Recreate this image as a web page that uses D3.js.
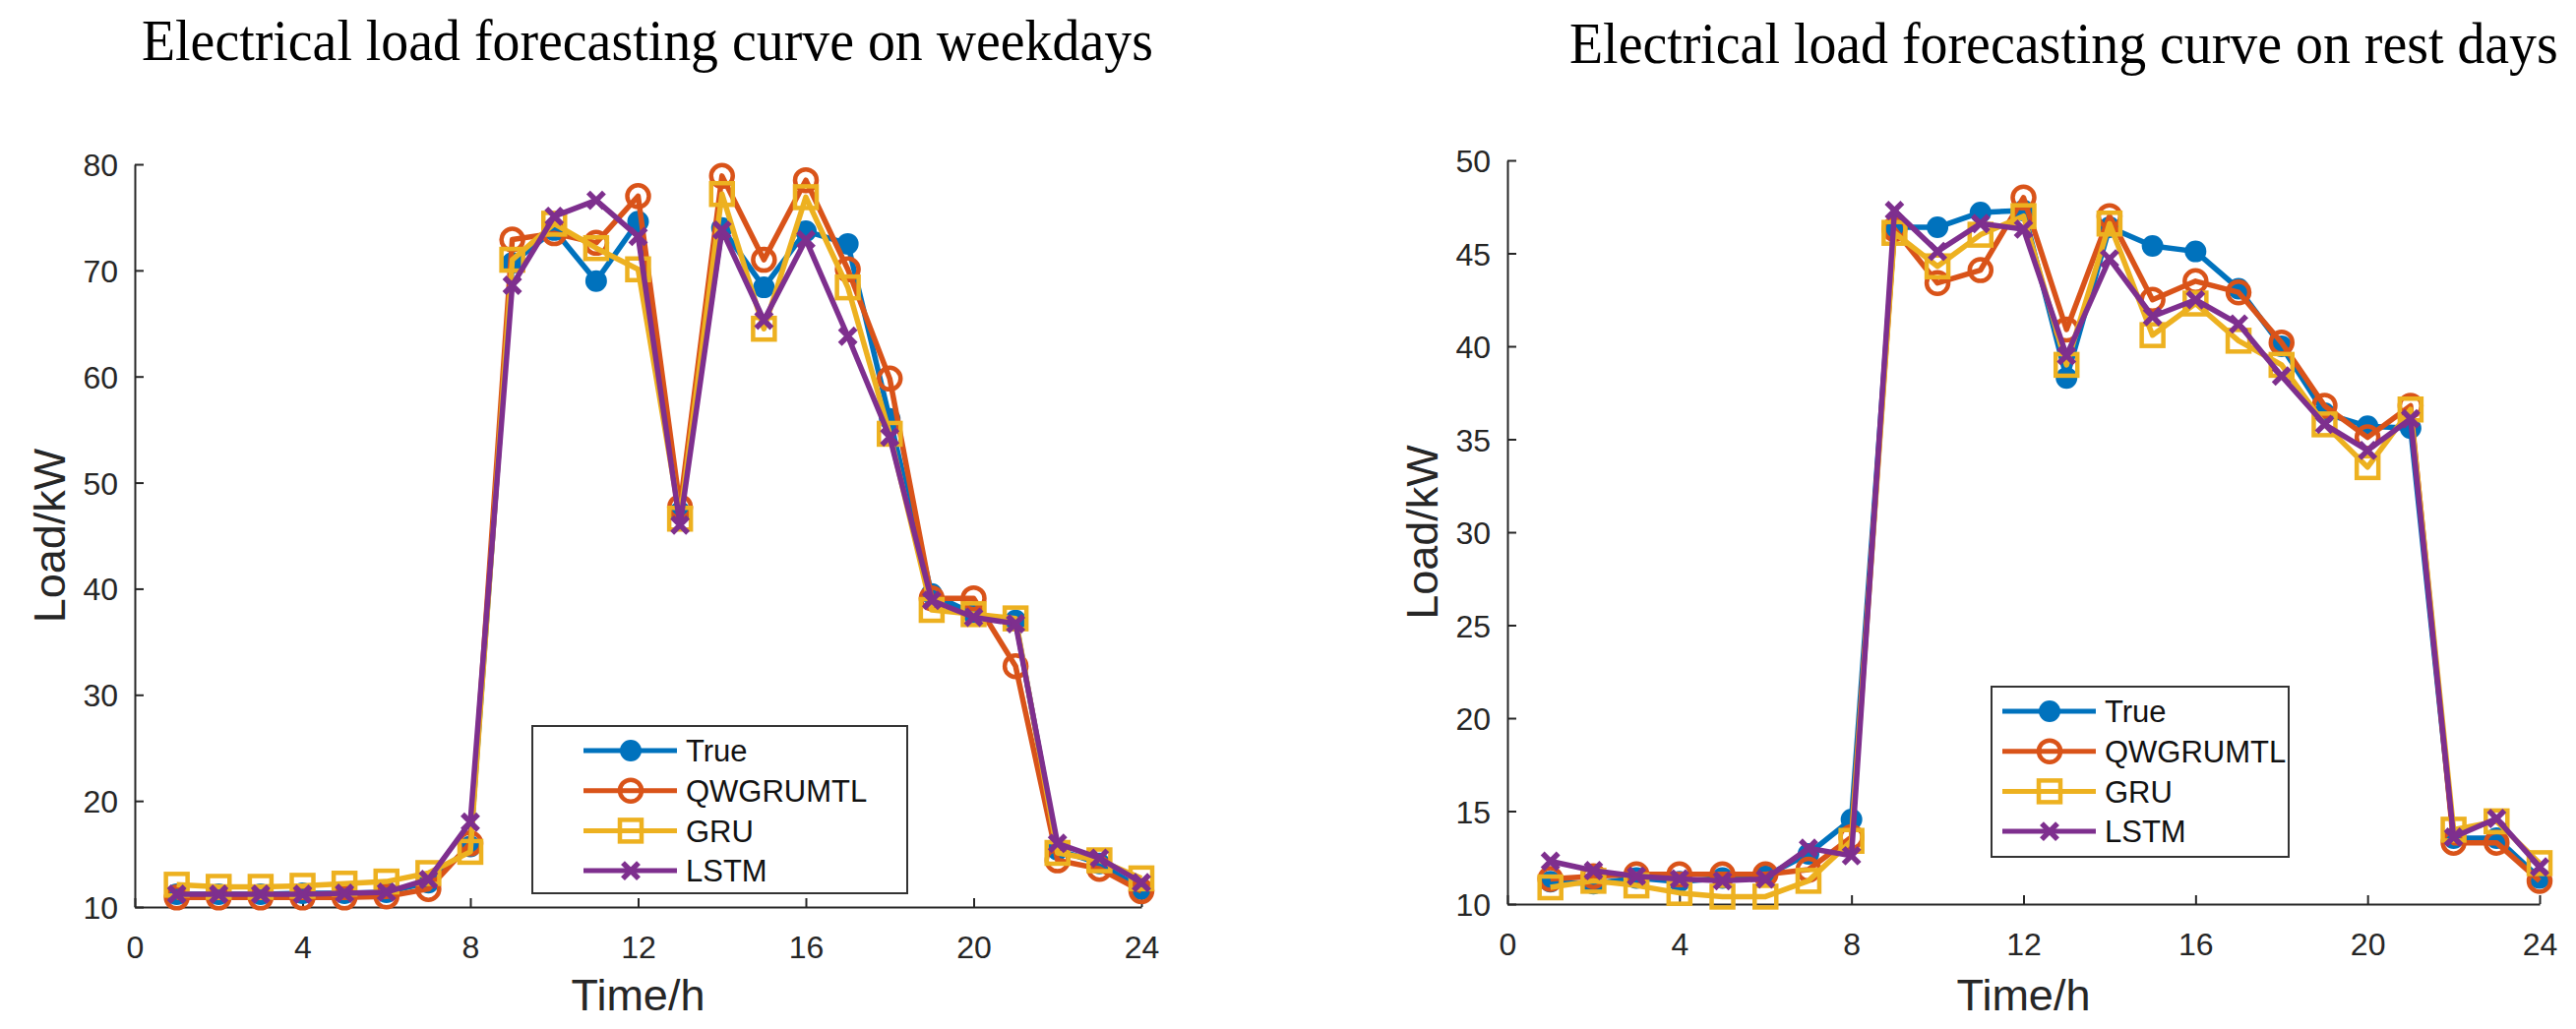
<!DOCTYPE html>
<html>
<head>
<meta charset="utf-8">
<script src="https://cdn.jsdelivr.net/npm/d3@7"></script>
<style>
  body { margin: 0; background: #fff; }
  svg { display: block; }
</style>
</head>
<body>
<div id="chart"></div>
<script>
// hours on the x axis
const hours = d3.range(1, 25);
const seriesNames = ["True", "QWGRUMTL", "GRU", "LSTM"];
const seriesColors = ["#0072BD", "#D95319", "#EDB120", "#7E2F8E"];
const xTicks = [0, 4, 8, 12, 16, 20, 24];

// weekdays
const wdTrue = [11.2, 11.2, 11.2, 11.3, 11.3, 11.4, 12.3, 15.7, 70.7, 73.8, 69.0, 74.6, 47.2, 74.0, 68.4, 73.7, 72.5, 56.0, 39.5, 37.6, 37.0, 15.4, 14.1, 11.7];
const wdQW   = [10.9, 10.9, 10.9, 10.9, 10.9, 11.0, 11.7, 16.0, 72.9, 73.5, 72.6, 77.0, 47.7, 78.9, 71.0, 78.5, 70.1, 59.8, 39.1, 39.1, 32.7, 14.4, 13.6, 11.5];
const wdGRU  = [12.1, 11.9, 11.9, 12.0, 12.2, 12.4, 13.2, 15.2, 71.0, 74.4, 72.1, 70.1, 46.6, 77.2, 64.5, 76.9, 68.4, 54.6, 38.0, 37.6, 37.2, 15.1, 14.4, 12.7];
const wdLSTM = [11.2, 11.2, 11.2, 11.2, 11.3, 11.4, 12.6, 18.0, 68.6, 75.1, 76.6, 73.2, 46.0, 73.8, 65.3, 72.9, 63.8, 54.3, 38.9, 37.3, 36.7, 16.0, 14.6, 12.3];
const wdYTicks = [10, 20, 30, 40, 50, 60, 70, 80];

// rest days
const rdTrue = [11.2, 11.1, 11.4, 11.2, 11.4, 11.5, 12.7, 14.55, 46.4, 46.4, 47.2, 47.3, 38.3, 46.4, 45.4, 45.1, 43.1, 40.0, 36.4, 35.7, 35.6, 13.55, 13.55, 11.4];
const rdQW   = [11.35, 11.5, 11.6, 11.6, 11.6, 11.6, 11.85, 13.6, 46.3, 43.4, 44.1, 48.0, 40.9, 47.0, 42.5, 43.5, 42.9, 40.2, 36.8, 35.1, 36.8, 13.3, 13.3, 11.25];
const rdGRU  = [10.9, 11.25, 11.0, 10.6, 10.4, 10.4, 11.25, 13.4, 46.1, 44.3, 46.0, 47.0, 39.0, 46.6, 40.6, 42.3, 40.3, 39.0, 35.8, 33.5, 36.6, 14.0, 14.45, 12.2];
const rdLSTM = [12.3, 11.8, 11.5, 11.35, 11.25, 11.35, 13.0, 12.6, 47.3, 45.1, 46.6, 46.3, 39.5, 44.7, 41.6, 42.5, 41.2, 38.4, 35.8, 34.4, 36.1, 13.6, 14.6, 12.0];
const rdYTicks = [10, 15, 20, 25, 30, 35, 40, 45, 50];

const W = 2618, H = 1046;
const axisColor = "#262626";
const sans = "'Liberation Sans', Arial, sans-serif";

const svg = d3.select("#chart")
    .append("svg")
    .attr("width", W)
    .attr("height", H);

function drawMarker(g, i, color) {
    if (i === 0) {
        g.append("circle").attr("r", 10).attr("fill", color).attr("stroke", color).attr("stroke-width", 2);
    } else if (i === 1) {
        g.append("circle").attr("r", 11).attr("fill", "none").attr("stroke", color).attr("stroke-width", 4.5);
    } else if (i === 2) {
        g.append("rect").attr("x", -11).attr("y", -11).attr("width", 22).attr("height", 22)
            .attr("fill", "none").attr("stroke", color).attr("stroke-width", 4.5);
    } else {
        g.append("path").attr("d", "M-8,-8L8,8M-8,8L8,-8")
            .attr("fill", "none").attr("stroke", color).attr("stroke-width", 5.5);
    }
}

function drawPanel(p) {
    const g = svg.append("g");

    const x = d3.scaleLinear().domain([0, 24]).range([p.left, p.right]);
    const y = d3.scaleLinear().domain(p.yDomain).range([p.bottom, p.top]);

    // title, squeezed horizontally like the original
    const tg = g.append("g");
    const title = tg.append("text")
        .style("font-family", "'Liberation Serif', 'Times New Roman', serif")
        .style("font-size", "59px")
        .attr("fill", "#000")
        .text(p.title);
    const sx = p.titleW / title.node().getComputedTextLength();
    tg.attr("transform", `translate(${p.titleX},${p.titleY}) scale(${sx},1)`);

    // axes, ticks pointing inward
    const xAxis = g.append("g")
        .attr("transform", `translate(0,${p.bottom})`)
        .call(d3.axisBottom(x).tickValues(xTicks).tickSizeInner(-9).tickSizeOuter(0).tickPadding(22));
    const yAxis = g.append("g")
        .attr("transform", `translate(${p.left},0)`)
        .call(d3.axisLeft(y).tickValues(p.yTicks).tickSizeInner(-9).tickSizeOuter(0).tickPadding(17));

    [xAxis, yAxis].forEach(a => {
        a.select(".domain").attr("stroke", axisColor).attr("stroke-width", 2);
        a.selectAll(".tick line").attr("stroke", axisColor).attr("stroke-width", 2);
        a.selectAll(".tick text")
            .attr("fill", axisColor)
            .style("font-family", sans)
            .style("font-size", "32px");
    });
    xAxis.selectAll(".tick text").attr("dy", "0.95em");
    yAxis.selectAll(".tick text").attr("dy", "0.36em");

    // axis labels
    g.append("text")
        .attr("x", (p.left + p.right) / 2)
        .attr("y", 1027)
        .attr("text-anchor", "middle")
        .attr("fill", axisColor)
        .style("font-family", sans)
        .style("font-size", "45px")
        .text("Time/h");

    g.append("text")
        .attr("transform", `translate(${p.yLabelX},${(p.top + p.bottom) / 2}) rotate(-90)`)
        .attr("text-anchor", "middle")
        .attr("fill", axisColor)
        .style("font-family", sans)
        .style("font-size", "45px")
        .text("Load/kW");

    // series
    const line = d3.line().x((d, k) => x(hours[k])).y(d => y(d));
    p.series.forEach((vals, i) => {
        const color = seriesColors[i];
        g.append("path")
            .datum(vals)
            .attr("fill", "none")
            .attr("stroke", color)
            .attr("stroke-width", 5.5)
            .attr("stroke-linejoin", "round")
            .attr("d", line);

        g.selectAll(null)
            .data(vals)
            .enter()
            .append("g")
            .attr("transform", (d, k) => `translate(${x(hours[k])},${y(d)})`)
            .each(function () { drawMarker(d3.select(this), i, color); });
    });

    // legend
    const lg = g.append("g");
    lg.append("rect")
        .attr("x", p.legend.x)
        .attr("y", p.legend.y)
        .attr("width", p.legend.w)
        .attr("height", p.legend.h)
        .attr("fill", "#fff")
        .attr("stroke", "#333")
        .attr("stroke-width", 2);

    seriesNames.forEach((name, i) => {
        const ry = p.legend.y + 25 + i * 40.7;
        const color = seriesColors[i];
        lg.append("line")
            .attr("x1", p.legend.lineX)
            .attr("x2", p.legend.lineX + 95)
            .attr("y1", ry)
            .attr("y2", ry)
            .attr("stroke", color)
            .attr("stroke-width", 5);
        drawMarker(lg.append("g").attr("transform", `translate(${p.legend.lineX + 48},${ry})`), i, color);
        lg.append("text")
            .attr("x", p.legend.lineX + 104)
            .attr("y", ry)
            .attr("dy", "0.36em")
            .attr("fill", "#111")
            .style("font-family", sans)
            .style("font-size", "31px")
            .text(name);
    });
}

drawPanel({
    title: "Electrical load forecasting curve on weekdays",
    titleX: 144, titleY: 61, titleW: 1028,
    left: 137, right: 1160, top: 167, bottom: 922,
    yDomain: [10, 80], yTicks: wdYTicks,
    yLabelX: 66,
    series: [wdTrue, wdQW, wdGRU, wdLSTM],
    legend: { x: 541, y: 738, w: 381, h: 170, lineX: 593 }
});

drawPanel({
    title: "Electrical load forecasting curve on rest days",
    titleX: 1595, titleY: 64, titleW: 1005,
    left: 1532, right: 2581, top: 163, bottom: 919,
    yDomain: [10, 50], yTicks: rdYTicks,
    yLabelX: 1461,
    series: [rdTrue, rdQW, rdGRU, rdLSTM],
    legend: { x: 2024, y: 698, w: 302, h: 173, lineX: 2035 }
});
</script>
</body>
</html>
